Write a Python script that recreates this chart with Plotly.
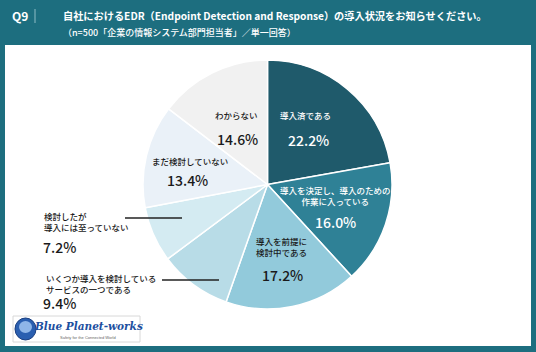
import plotly.graph_objects as go

W, H = 536, 352

# ---- data ----
categories = [
    "導入済である",
    "導入を決定し、導入のための<br>作業に入っている",
    "導入を前提に<br>検討中である",
    "いくつか導入を検討している<br>サービスの一つである",
    "検討したが<br>導入には至っていない",
    "まだ検討していない",
    "わからない",
]
values = [22.2, 16.0, 17.2, 9.4, 7.2, 13.4, 14.6]
colors = ["#1f5a6b", "#2f8196", "#92cadb", "#b8dce7", "#d4ebf2", "#eaf1f8", "#f1f1f1"]
text_colors = ["#ffffff", "#ffffff", "#1a1a1a", "#1a1a1a", "#1a1a1a", "#1a1a1a", "#1a1a1a"]

title = "自社におけるEDR（Endpoint Detection and Response）の導入状況をお知らせください。"
subtitle = "（n=500「企業の情報システム部門担当者」／単一回答）"

FONT = "Noto Sans CJK JP"
TEAL = "#1d6e7f"


def px(x):
    return x / W


def py(y):
    return 1 - y / H


# pie geometry (pixels)
cx, cy, r = 267.5, 184.5, 124.5

fig = go.Figure()
fig.add_trace(go.Pie(
    labels=categories,
    values=values,
    sort=False,
    direction="clockwise",
    rotation=0,
    marker=dict(colors=colors, line=dict(color="#ffffff", width=1.5)),
    textinfo="none",
    hoverinfo="label+percent",
    showlegend=False,
    domain=dict(x=[px(cx - r), px(cx + r)], y=[py(cy + r), py(cy - r)]),
))

# label positions: (label x, label y, pct x, pct y, anchor)
label_pos = [
    (305, 115, 308, 140, "center"),
    (335, 196, 335, 222, "center"),
    (281, 246, 282, 275, "center"),
    (44, 283, 41, 303, "left"),
    (42, 221, 41, 247, "left"),
    (190, 161, 187, 180, "center"),
    (236, 115, 237, 139, "center"),
]

ann = []
for cat, v, tc, (lx, ly, vx, vy, anc) in zip(categories, values, text_colors, label_pos):
    ann.append(dict(x=px(lx), y=py(ly), xref="paper", yref="paper", text=cat,
                    showarrow=False, xanchor=anc, yanchor="middle", align=anc,
                    font=dict(family=FONT, size=8.5, color=tc, weight=500)))
    ann.append(dict(x=px(vx), y=py(vy), xref="paper", yref="paper", text=f"{v:.1f}%",
                    showarrow=False, xanchor=anc, yanchor="middle",
                    font=dict(family=FONT, size=14, color=tc, weight=500)))

# header
ann.append(dict(x=px(10), y=py(16), xref="paper", yref="paper", text="<b>Q9</b>",
                showarrow=False, xanchor="left", yanchor="middle",
                font=dict(family=FONT, size=12, color="#ffffff")))
ann.append(dict(x=px(61), y=py(16), xref="paper", yref="paper", text="<b>" + title + "</b>",
                showarrow=False, xanchor="left", yanchor="middle",
                font=dict(family=FONT, size=10.2, color="#ffffff")))
ann.append(dict(x=px(61), y=py(32), xref="paper", yref="paper", text=subtitle,
                showarrow=False, xanchor="left", yanchor="middle",
                font=dict(family=FONT, size=9, color="#ffffff", weight=500)))

# logo text
ann.append(dict(x=px(88), y=py(326), xref="paper", yref="paper",
                text="<b><i>Blue Planet-works</i></b>",
                showarrow=False, xanchor="center", yanchor="middle",
                font=dict(family="DejaVu Serif", size=10.5, color="#1d4f9f")))
ann.append(dict(x=px(88), y=py(337), xref="paper", yref="paper",
                text="Safety for the Connected World",
                showarrow=False, xanchor="center", yanchor="middle",
                font=dict(family="Liberation Sans", size=4, color="#666666")))

shapes = [
    # white panel
    dict(type="rect", xref="paper", yref="paper", x0=px(5), x1=px(531), y0=py(346), y1=py(45),
         fillcolor="#ffffff", line=dict(width=0), layer="below"),
    # header separator
    dict(type="line", xref="paper", yref="paper", x0=px(35), x1=px(35), y0=py(9), y1=py(23),
         line=dict(color="#8fbcc6", width=1)),
    # leader lines
    dict(type="line", xref="paper", yref="paper", x0=px(125), x1=px(182), y0=py(218), y1=py(218),
         line=dict(color="#222222", width=1.3)),
    dict(type="line", xref="paper", yref="paper", x0=px(162), x1=px(219), y0=py(280), y1=py(280),
         line=dict(color="#222222", width=1.3)),
    # logo box
    dict(type="rect", xref="paper", yref="paper", x0=px(13), x1=px(140), y0=py(342), y1=py(316),
         fillcolor="#ffffff", line=dict(color="#d8d8d8", width=1)),
    dict(type="circle", xref="paper", yref="paper", x0=px(15), x1=px(36), y0=py(340), y1=py(318),
         fillcolor="#2a5fb0", line=dict(color="#1b3f80", width=1)),
    dict(type="circle", xref="paper", yref="paper", x0=px(19), x1=px(32), y0=py(333), y1=py(321),
         fillcolor="#8fb6e8", line=dict(width=0)),
]

fig.update_layout(
    width=W, height=H,
    margin=dict(l=0, r=0, t=0, b=0),
    paper_bgcolor=TEAL,
    plot_bgcolor=TEAL,
    annotations=ann,
    shapes=shapes,
)

fig.write_html("out.html")
